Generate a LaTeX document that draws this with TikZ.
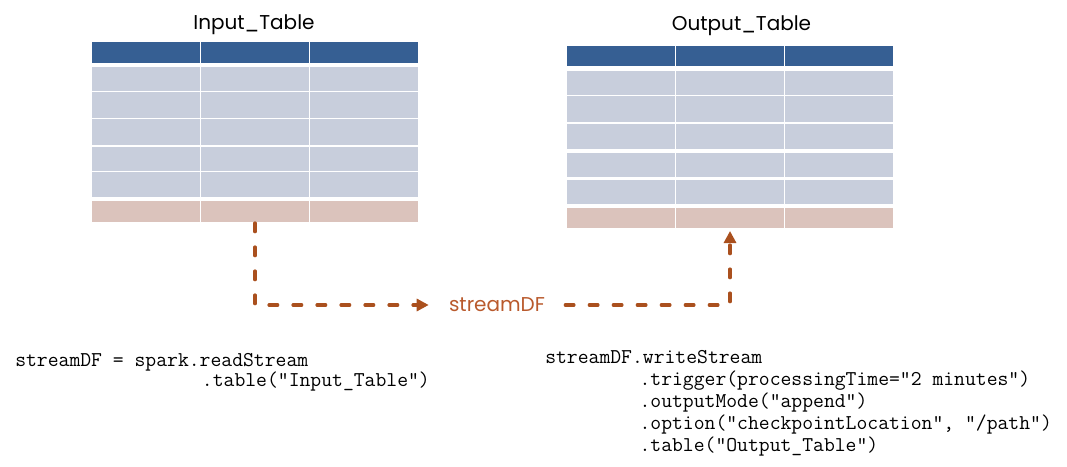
\documentclass[tikz,border=0pt]{standalone}
\usepackage{fontspec}
\setmainfont{Poppins}
\usetikzlibrary{arrows.meta}
\definecolor{hdr}{RGB}{54,95,147}
\definecolor{rowc}{RGB}{200,206,220}
\definecolor{pinkc}{RGB}{219,195,188}
\definecolor{arr}{RGB}{170,80,30}
\definecolor{sdfc}{RGB}{185,90,45}
\tikzset{
  title/.style={anchor=base,inner sep=0pt,font=\fontsize{15}{18}\selectfont},
  code/.style={anchor=base west,inner sep=0pt,font=\ttfamily\fontsize{15.8}{18}\selectfont},
  sdfnode/.style={inner sep=0pt,minimum width=102pt,align=center,text=sdfc,font=\fontsize{15}{18}\selectfont},
  flow/.style={draw=arr,line width=2.4pt,line cap=round,dash pattern=on 6.5pt off 11.5pt,-{Triangle[length=9pt,width=9pt]}}
}
\begin{document}
\begin{tikzpicture}[x=0.75pt,y=-0.75pt]
\useasboundingbox (0,0) rectangle (1067,467);
% input table
\foreach \t/\b/\c in {42/62.7/hdr,67/90.7/rowc,91.7/117.7/rowc,119.3/145/rowc,146.7/170.7/rowc,172/196.7/rowc,200.7/221.7/pinkc}
  \foreach \l/\r in {92/199.5,200.5/308.5,309.5/418}
    \fill[\c] (\l,\t) rectangle (\r,\b);
% output table
\foreach \t/\b/\c in {46/65.7/hdr,71/94.7/rowc,96/121.7/rowc,124/148.7/rowc,152.7/176.7/rowc,180/203.7/rowc,208/227.7/pinkc}
  \foreach \l/\r in {567/674.5,675.5/783.5,784.5/893}
    \fill[\c] (\l,\t) rectangle (\r,\b);
\node[title] (intitle) at (254,29.5) {Input\_Table};
\node[title] (outtitle) at (741.5,31) {Output\_Table};
\coordinate (inbot) at (255,223);
\coordinate (outbot) at (730,231);
\node[sdfnode] (sdf) at (497,305) {streamDF};
\draw[flow] (inbot) |- (sdf);
\draw[flow] (sdf) -| (outbot);
% code
\node[code] (l1) at (15,366) {streamDF = spark.readStream};
\node[code] (l2) at (201.7,386.7) {.table("Input\_Table")};
\node[code] (r1) at (545,363) {streamDF.writeStream};
\node[code] (r2) at (639.3,385) {.trigger(processingTime="2 minutes")};
\node[code] (r3) at (639.3,407) {.outputMode("append")};
\node[code] (r4) at (639.3,429) {.option("checkpointLocation", "/path")};
\node[code] (r5) at (639.3,451.5) {.table("Output\_Table")};
\end{tikzpicture}
\end{document}
